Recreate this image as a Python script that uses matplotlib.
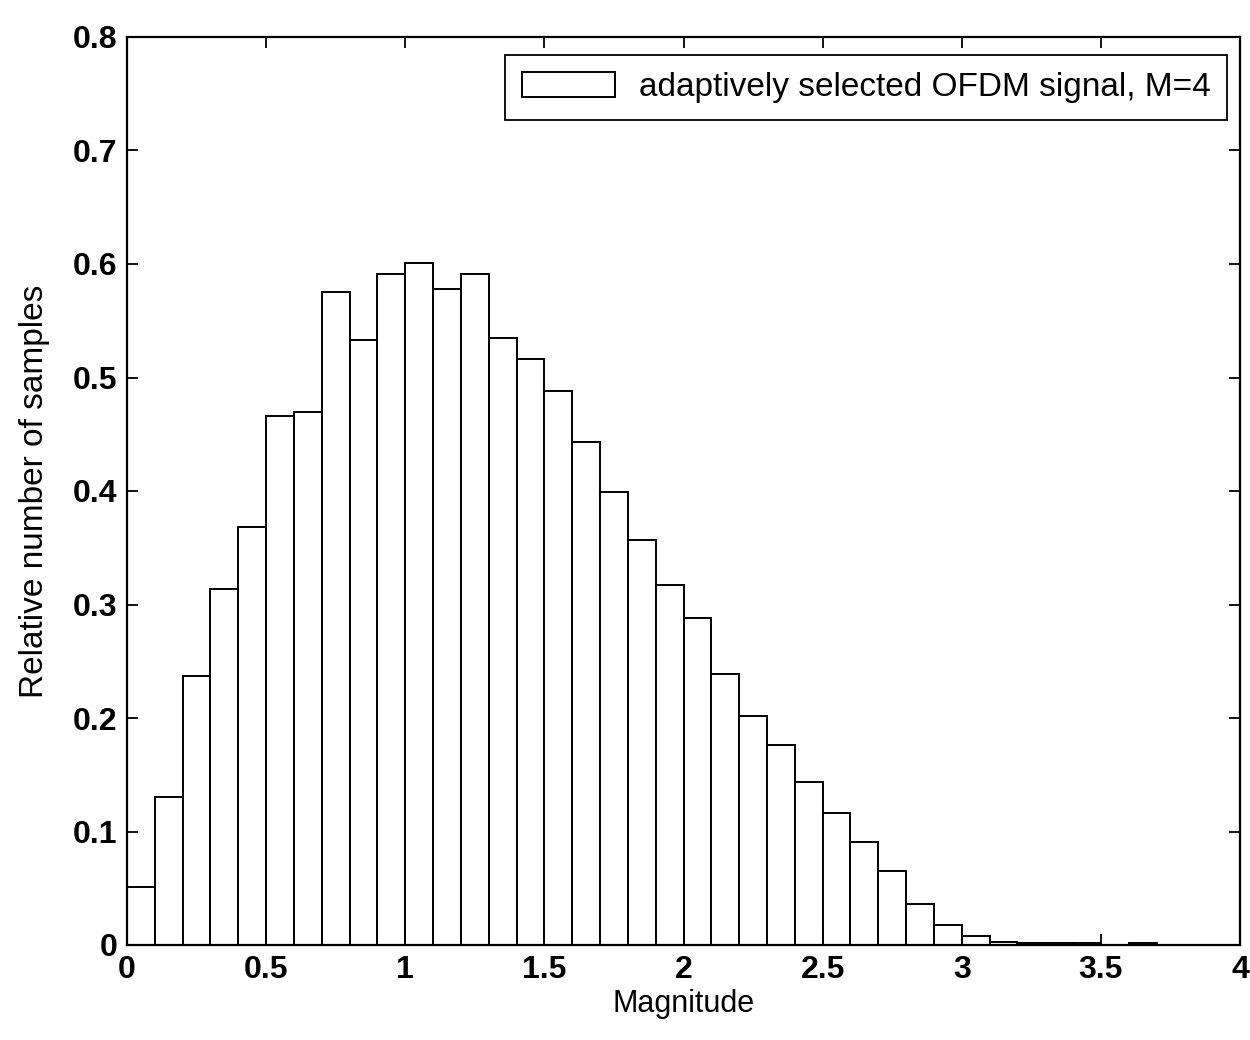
import matplotlib
matplotlib.use('Agg')
import matplotlib.pyplot as plt
import numpy as np

plt.rcParams['font.family'] = ['Liberation Sans', 'DejaVu Sans']

# histogram of magnitude, bin width 0.1 starting at 0
bin_edges = np.arange(0, 4.01, 0.1)
rel_counts = [0.051, 0.130, 0.237, 0.314, 0.368, 0.466, 0.470, 0.575, 0.533, 0.591,
              0.601, 0.578, 0.591, 0.535, 0.516, 0.488, 0.443, 0.399, 0.357, 0.317,
              0.288, 0.239, 0.202, 0.176, 0.144, 0.116, 0.091, 0.065, 0.036, 0.018,
              0.008, 0.003, 0.0015, 0.0015, 0.0015, 0.0, 0.0015, 0.0, 0.0, 0.0]
legend_label = 'adaptively selected OFDM signal, M=4'

fig = plt.figure(figsize=(12.5, 10.4), dpi=100)
ax = fig.add_axes([127 / 1250, 1 - 945 / 1040, (1240 - 127) / 1250, (945 - 37) / 1040])

ax.bar(bin_edges[:-1], rel_counts, width=0.1, align='edge',
       facecolor='white', edgecolor='black', linewidth=1.4, label=legend_label)

ax.set_xlim(0, 4)
ax.set_ylim(0, 0.8)
ax.set_xticks(np.arange(0, 4.01, 0.5))
ax.set_xticklabels(['0', '0.5', '1', '1.5', '2', '2.5', '3', '3.5', '4'])
ax.set_yticks(np.arange(0, 0.81, 0.1))
ax.set_yticklabels(['0', '0.1', '0.2', '0.3', '0.4', '0.5', '0.6', '0.7', '0.8'])
ax.tick_params(direction='in', top=True, right=True, length=8, width=1.3,
               labelsize=23, pad=7)
for lab in ax.get_xticklabels() + ax.get_yticklabels():
    lab.set_fontweight('bold')
for sp in ax.spines.values():
    sp.set_linewidth(1.6)

ax.set_xlabel('Magnitude', fontsize=22, labelpad=3)
ax.set_ylabel('Relative number of samples', fontsize=24, labelpad=16)

leg = ax.legend(loc='upper right', bbox_to_anchor=(1 - 13 / 1113, 1 - 18 / 908),
                borderaxespad=0, fontsize=24, fancybox=False, edgecolor='black',
                framealpha=1, handlelength=2.8, handleheight=0.8, handletextpad=0.7,
                borderpad=0.5)
leg.get_frame().set_linewidth(1.3)

fig.savefig('out.png', dpi=100)
